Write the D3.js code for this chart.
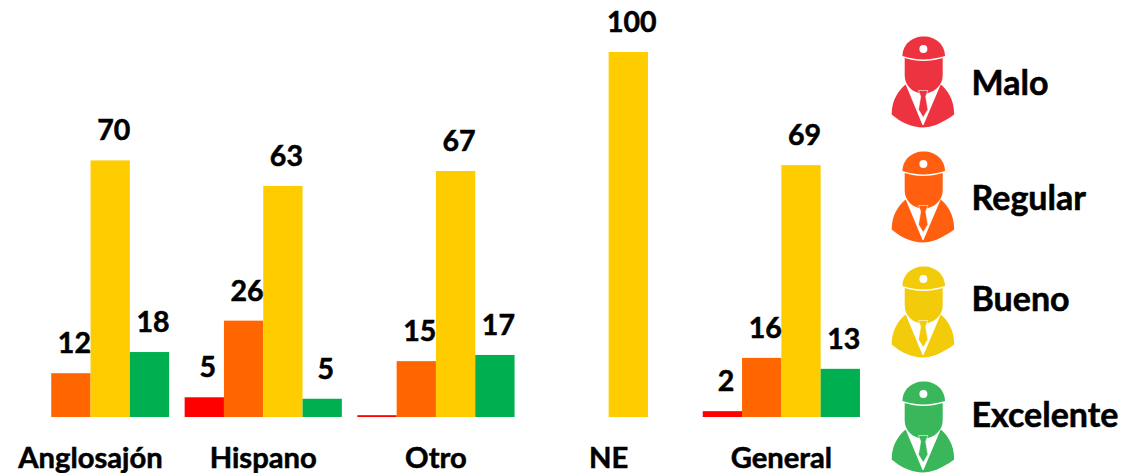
<!DOCTYPE html>
<html><head><meta charset="utf-8">
<script src="https://cdn.jsdelivr.net/npm/d3@7/dist/d3.min.js"></script>
<style>html,body{margin:0;padding:0;background:#fff}svg{display:block}
text{font-family:Lato,"Open Sans",sans-serif;font-weight:700;fill:#000;stroke:#000;stroke-width:.55px}</style></head>
<body><svg id="c" width="1121" height="473"></svg>
<script>
const categories = ["Anglosajón","Hispano","Otro","NE","General"];
const seriesNames = ["Malo","Regular","Bueno","Excelente"];
const malo      = [0, 5.4, 0.5, 0, 1.6];
const regular   = [12, 26.4, 15.3, 0, 16.2];
const bueno     = [70.3, 63.3, 67.4, 100, 69];
const excelente = [17.8, 5, 17, 0, 13.2];
const barColors  = ["#FF0000","#FF6600","#FFCC00","#00B050"];
const iconColors = ["#EE3340","#FF5F0F","#F2CB0A","#39B75A"];
const seriesValues = [malo, regular, bueno, excelente];

const svg = d3.select("#c");
const baseY = 417;
const y = d3.scaleLinear().domain([0,100]).range([baseY,52]);
const x0 = d3.scaleBand().domain(categories).range([4.2,867.7]).paddingInner(0).paddingOuter(0);
const x1 = d3.scaleBand().domain(seriesNames).range([x0.bandwidth()/2-78.6,x0.bandwidth()/2+78.6]);

const groups = svg.selectAll("g.grp").data(categories).join("g")
  .attr("class","grp").attr("transform",d=>`translate(${x0(d)},0)`);
groups.each(function(cat,ci){
  const g = d3.select(this);
  const rows = seriesNames.map((s,si)=>({s,si,v:seriesValues[si][ci]})).filter(d=>d.v>0);
  g.selectAll("rect").data(rows).join("rect")
    .attr("x",d=>x1(d.s)).attr("width",x1.bandwidth())
    .attr("y",d=>y(d.v)).attr("height",d=>baseY-y(d.v))
    .attr("fill",d=>barColors[d.si]);
  g.selectAll("text").data(rows.filter(d=>d.v>=1)).join("text")
    .attr("x",d=>x1(d.s)+x1.bandwidth()/2+3.5).attr("y",d=>y(d.v)-20)
    .attr("text-anchor","middle").attr("font-size",28.5)
    .text(d=>d3.format(".0f")(d.v));
});

const axis = d3.axisBottom(x0).tickSize(0).tickPadding(0);
const ax = svg.append("g").attr("transform","translate(0,447)").call(axis);
ax.select(".domain").remove();
ax.selectAll("text").attr("font-size",29.2).attr("font-family",null).attr("dy","0.72em");
ax.attr("font-family",null).attr("font-size",null);

// person icon, in a 62.5 x 91 box
const bodyPath = "M0 78 C0 62 8 53 14 48 L30.8 88.5 L31.8 88.5 L49 48 C55 53 62.5 62 62.5 78 C50 87 40 91 31 91 C21 91 9 86 0 78Z";
const facePath = "M13 21.5 C25 25.5 38 25.5 51 21.5 L51 39 C51 49 42 57 32 57 C21 57 13 49 13 39Z";
const capPath = "M10.7 19.5 C11 8 20 0 32 0 C44 0 53 8 53.3 19.5 C38 24 25 24 10.7 19.5Z";
const tiePath = "M26.8 54 L36.2 54 L34 60 L36.2 73 L31.5 81 L26.8 73 L29 60Z";
const legendTops = [36.5,151.5,266.5,381.5];
const legendBase = [95,210,311,427];
const leg = svg.selectAll("g.leg").data(seriesNames).join("g").attr("class","leg");
leg.each(function(name,i){
  const g = d3.select(this);
  const ic = g.append("g").attr("transform",`translate(891.7,${legendTops[i]})`).attr("fill",iconColors[i]);
  ic.append("path").attr("d",bodyPath);
  ic.append("path").attr("d",facePath);
  ic.append("path").attr("d",capPath);
  ic.append("path").attr("d",tiePath).attr("stroke","#fff").attr("stroke-width",0.6);
  ic.append("circle").attr("cx",31.7).attr("cy",12.5).attr("r",4).attr("fill","#fff");
  g.append("text").attr("x",971.5).attr("y",legendBase[i]).attr("font-size",34).text(name);
});
</script></body></html>
